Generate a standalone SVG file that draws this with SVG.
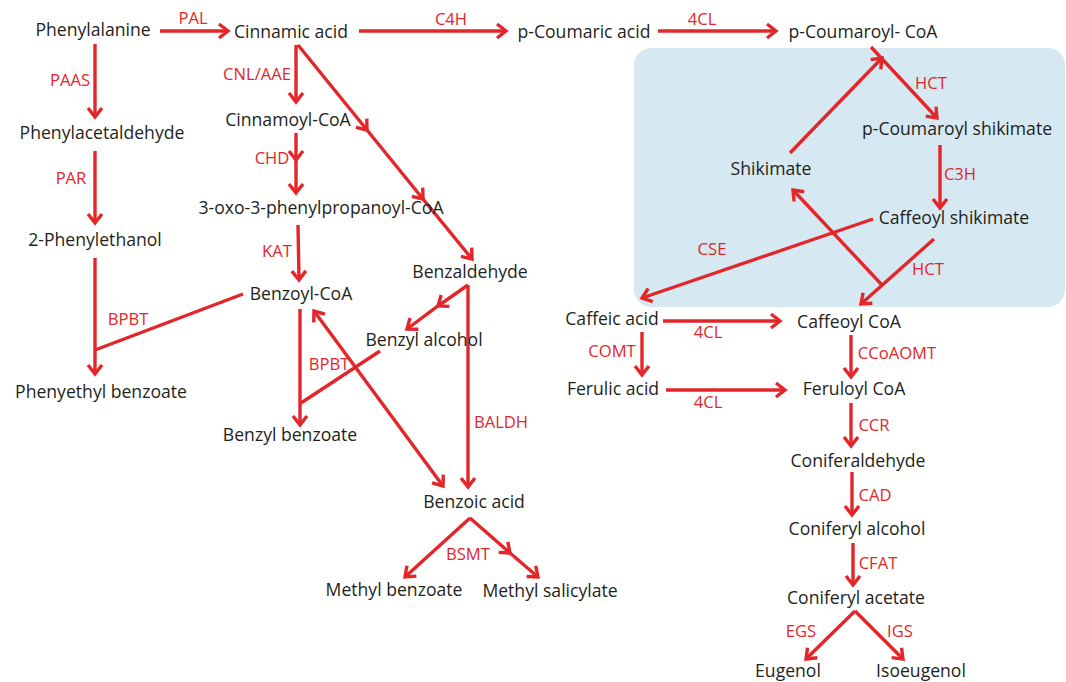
<svg xmlns="http://www.w3.org/2000/svg" width="1066" height="682" viewBox="0 0 1066 682">
<style>
.n{font-family:"Open Sans","Noto Sans",sans-serif;font-size:17.6px;fill:#231f20;text-anchor:middle}
.l{font-family:"Open Sans","Noto Sans",sans-serif;font-size:16.6px;fill:#e3262a;text-anchor:middle}
.c path{fill:none;stroke:#e3262a;stroke-width:3.4}
.e{marker-end:url(#ah)}
.m{marker-mid:url(#ah)}
</style>
<defs>
<marker id="ah" viewBox="-13 -9 16 18" refX="0" refY="0" markerWidth="16" markerHeight="18" markerUnits="userSpaceOnUse" orient="auto-start-reverse">
<path d="M-9,-7 L0,0 L-9,7" fill="none" stroke="#e3262a" stroke-width="3.4"/>
</marker>
</defs>
<rect id="box" x="634" y="48" width="431" height="259" rx="17" fill="#d6e9f3"/>
<g class="c" id="connectors">
<path class="e" d="M160,31 H228"/>
<path class="e" d="M359,31 H506"/>
<path class="e" d="M658,31 H776"/>
<path class="e" d="M95,44 V117"/>
<path class="e" d="M95,151 V223"/>
<path class="e" d="M296,45 V102"/>
<path class="e m" d="M298,45 L367,130 L423,199 L472,259"/>
<path class="e m" d="M296,133 L296,160 L296,193"/>
<path class="e" d="M298,225 L299,280"/>
<path class="e" d="M95,258 V374"/>
<path d="M243,294 L95,350"/>
<path class="e" d="M300,309 V425"/>
<path d="M380,351 L301,403"/>
<path class="e m" d="M468,285 L438,306 L407,329"/>
<path class="e" d="M468,285 V487"/>
<path class="e" style="marker-start:url(#ah)" d="M314,311 L443,486"/>
<path class="e" d="M470,518 L405,577"/>
<path class="e m" d="M470,518 L510,553 L538,577"/>
<path class="e" d="M790,153 L882,58"/>
<path class="e" d="M871,47 L937,118"/>
<path class="e" d="M940,145 V208"/>
<path class="e" d="M873,219 L642,298"/>
<path class="e" d="M934,239 L861,304"/>
<path class="e" d="M882,285 L793,190"/>
<path class="e" d="M663,321 H780"/>
<path class="e" d="M642,332 V375"/>
<path class="e" d="M666,390 H785"/>
<path class="e" d="M851,335 V377"/>
<path class="e" d="M851,403 V446"/>
<path class="e" d="M852,472 V515"/>
<path class="e" d="M853,543 V585"/>
<path class="e" d="M855,611 L806,659"/>
<path class="e" d="M855,611 L903,659"/>
</g>
<g id="labels">
<text class="l" x="193" y="24">PAL</text>
<text class="l" x="451" y="25">C4H</text>
<text class="l" x="702" y="25">4CL</text>
<text class="l" x="70" y="86">PAAS</text>
<text class="l" x="257" y="80">CNL/AAE</text>
<text class="l" x="272" y="164">CHD</text>
<text class="l" x="71" y="184">PAR</text>
<text class="l" x="931" y="89">HCT</text>
<text class="l" x="960" y="180">C3H</text>
<text class="l" x="712" y="255">CSE</text>
<text class="l" x="928" y="275">HCT</text>
<text class="l" x="277" y="257">KAT</text>
<text class="l" x="128" y="325">BPBT</text>
<text class="l" x="329" y="370">BPBT</text>
<text class="l" x="708" y="338">4CL</text>
<text class="l" x="612" y="357">COMT</text>
<text class="l" x="897" y="359">CCoAOMT</text>
<text class="l" x="708" y="408">4CL</text>
<text class="l" x="501" y="428">BALDH</text>
<text class="l" x="874" y="431">CCR</text>
<text class="l" x="875" y="501">CAD</text>
<text class="l" x="468" y="560">BSMT</text>
<text class="l" x="878" y="569">CFAT</text>
<text class="l" x="801" y="637">EGS</text>
<text class="l" x="900" y="637">IGS</text>
</g>
<g id="n-phenylalanine"><text class="n" x="93" y="36">Phenylalanine</text></g>
<g id="n-cinnamic"><text class="n" x="291" y="38">Cinnamic acid</text></g>
<g id="n-pcoumaric"><text class="n" x="584" y="38">p-Coumaric acid</text></g>
<g id="n-pcoumaroylcoa"><text class="n" x="863" y="38">p-Coumaroyl- CoA</text></g>
<g id="n-phenylacetaldehyde"><text class="n" x="102" y="139">Phenylacetaldehyde</text></g>
<g id="n-cinnamoylcoa"><text class="n" x="288" y="126">Cinnamoyl-CoA</text></g>
<g id="n-oxo"><text class="n" x="321" y="214">3-oxo-3-phenylpropanoyl-CoA</text></g>
<g id="n-phenylethanol"><text class="n" x="95" y="246">2-Phenylethanol</text></g>
<g id="n-benzaldehyde"><text class="n" x="470" y="278">Benzaldehyde</text></g>
<g id="n-benzoylcoa"><text class="n" x="301" y="300">Benzoyl-CoA</text></g>
<g id="n-benzylalcohol"><text class="n" x="424" y="346">Benzyl alcohol</text></g>
<g id="n-phenyethylbenzoate"><text class="n" x="101" y="398">Phenyethyl benzoate</text></g>
<g id="n-benzylbenzoate"><text class="n" x="290" y="441">Benzyl benzoate</text></g>
<g id="n-benzoicacid"><text class="n" x="474" y="508">Benzoic acid</text></g>
<g id="n-methylbenzoate"><text class="n" x="394" y="596">Methyl benzoate</text></g>
<g id="n-methylsalicylate"><text class="n" x="550" y="597">Methyl salicylate</text></g>
<g id="n-shikimate"><text class="n" x="771" y="175">Shikimate</text></g>
<g id="n-pcoumaroylshikimate"><text class="n" x="957" y="135">p-Coumaroyl shikimate</text></g>
<g id="n-caffeoylshikimate"><text class="n" x="954" y="224">Caffeoyl shikimate</text></g>
<g id="n-caffeicacid"><text class="n" x="612" y="325">Caffeic acid</text></g>
<g id="n-caffeoylcoa"><text class="n" x="849" y="328">Caffeoyl CoA</text></g>
<g id="n-ferulicacid"><text class="n" x="613" y="395">Ferulic acid</text></g>
<g id="n-feruloylcoa"><text class="n" x="854" y="395">Feruloyl CoA</text></g>
<g id="n-coniferaldehyde"><text class="n" x="858" y="467">Coniferaldehyde</text></g>
<g id="n-coniferylalcohol"><text class="n" x="857" y="535">Coniferyl alcohol</text></g>
<g id="n-coniferylacetate"><text class="n" x="856" y="604">Coniferyl acetate</text></g>
<g id="n-eugenol"><text class="n" x="788" y="677">Eugenol</text></g>
<g id="n-isoeugenol"><text class="n" x="921" y="677">Isoeugenol</text></g>
</svg>
